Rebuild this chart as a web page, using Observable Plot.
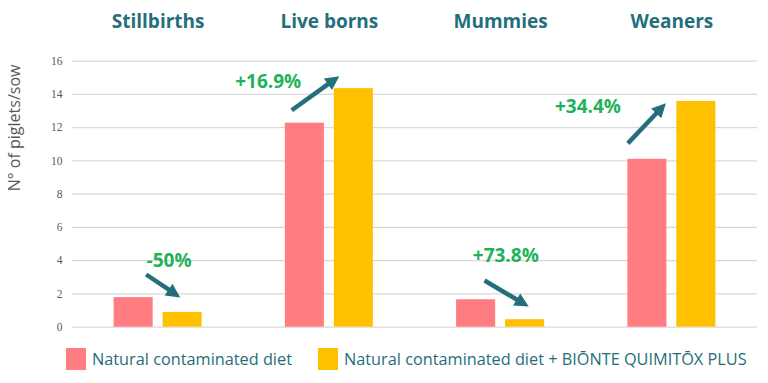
<!DOCTYPE html>
<html>
<head>
<meta charset="utf-8">
<script src="https://cdn.jsdelivr.net/npm/d3@7"></script>
<script src="https://cdn.jsdelivr.net/npm/@observablehq/plot@0.6"></script>
<style>
  body { margin: 0; background: #fff; width: 768px; height: 383px; overflow: hidden; font-family: "Open Sans", sans-serif; }
  #chart svg { display: block; }
  .legend { position: relative; height: 43px; }
  .legend .sw { position: absolute; top: 8px; width: 20px; height: 22px; }
  .legend .lb { position: absolute; top: 8px; line-height: 22px; font-size: 16.3px; color: #1f6e78; white-space: nowrap; }
</style>
</head>
<body>
<div id="chart"></div>
<div class="legend" id="legend"></div>
<script>
// ---- data ----
const categories = ["Stillbirths", "Live borns", "Mummies", "Weaners"];
const series = ["Natural contaminated diet", "Natural contaminated diet + BIŌNTE QUIMITŌX PLUS"];
const controlValues = [1.78, 12.27, 1.65, 10.1];
const treatedValues = [0.89, 14.35, 0.45, 13.58];
const changeLabels = ["-50%", "+16.9%", "+73.8%", "+34.4%"];
const yTicks = [0, 2, 4, 6, 8, 10, 12, 14, 16];

// annotation anchors (value units on y; offsets from group centre in group widths on x)
const arrowStartY = [3.17, 13.05, 2.81, 11.06];
const arrowEndY = [1.79, 15.1, 1.24, 13.47];
const labelY = [4.0, 14.76, 4.3, 13.23];
const arrowStartDX = [-0.07, -0.22, -0.094, -0.257];
const arrowEndDX = [0.129, 0.058, 0.164, -0.035];
const labelDX = [0.064, -0.357, 0.03, -0.49];

const colors = ["#ff7c80", "#ffc000"];
const teal = "#246f7b";
const green = "#1fb25a";

// ---- build tables ----
const bars = [];
categories.forEach((c, i) => {
  bars.push({cat: c, i, s: 0, v: controlValues[i]});
  bars.push({cat: c, i, s: 1, v: treatedValues[i]});
});
const barOffsets = [[-0.257, -0.029], [0.029, 0.257]];
const ann = categories.map((c, i) => ({
  i,
  x1: i + 0.5 + arrowStartDX[i], y1: arrowStartY[i],
  x2: i + 0.5 + arrowEndDX[i], y2: arrowEndY[i],
  lx: i + 0.5 + labelDX[i], ly: labelY[i], text: changeLabels[i]
}));

const HEAD_LEN = 14, HEAD_HALF = 7;
function arrowRender(index, scales, values, dimensions, context, next) {
  const {x1: X1, y1: Y1, x2: X2, y2: Y2} = values;
  const nx2 = [], ny2 = [];
  const heads = [];
  for (const i of index) {
    const dx = X2[i] - X1[i], dy = Y2[i] - Y1[i];
    const L = Math.hypot(dx, dy), ux = dx / L, uy = dy / L;
    nx2[i] = X2[i] - ux * (HEAD_LEN - 2);
    ny2[i] = Y2[i] - uy * (HEAD_LEN - 2);
    const bx = X2[i] - ux * HEAD_LEN, by = Y2[i] - uy * HEAD_LEN;
    heads.push([[X2[i], Y2[i]], [bx - uy * HEAD_HALF, by + ux * HEAD_HALF], [bx + uy * HEAD_HALF, by - ux * HEAD_HALF]]);
  }
  const g = next(index, scales, {...values, x2: nx2, y2: ny2}, dimensions, context);
  const sel = d3.select(g);
  heads.forEach((pts) => {
    sel.append("path").attr("d", "M" + pts.map((p) => p.join(",")).join("L") + "Z")
      .attr("fill", teal).attr("stroke", "none");
  });
  return g;
}

const W = 768, H = 340;
const plot = Plot.plot({
  width: W, height: H,
  marginLeft: 72, marginRight: 11, marginTop: 60.7, marginBottom: 13.3,
  x: {domain: [0, 4], axis: null},
  y: {domain: [0, 16], axis: null},
  style: {fontFamily: "'Open Sans', sans-serif", background: "#fff"},
  marks: [
    Plot.gridY(yTicks, {stroke: "#d9d9d9", strokeOpacity: 1, strokeWidth: 1.3}),
    Plot.axisY(yTicks, {tickSize: 0, tickPadding: 10, fontSize: 11.5, fill: "#595959", fontFamily: "'Liberation Serif', serif", label: null}),
    Plot.axisX(categories.map((c, i) => i + 0.5), {
      anchor: "top", tickSize: 0, tickPadding: 33, fontSize: 19, fontWeight: "bold", fill: teal,
      tickFormat: (d) => categories[Math.floor(d)], label: null
    }),
    Plot.text(["N° of piglets/sow"], {frameAnchor: "left", rotate: -90, dx: -58, dy: -3, fontSize: 16, fill: "#595959"}),
    Plot.rectY(bars, {
      x1: (d) => d.i + 0.5 + barOffsets[d.s][0],
      x2: (d) => d.i + 0.5 + barOffsets[d.s][1],
      y1: 0, y2: "v",
      fill: (d) => colors[d.s]
    }),
    Plot.link(ann, {x1: "x1", y1: "y1", x2: "x2", y2: "y2", stroke: teal, strokeWidth: 4.5, render: arrowRender}),
    Plot.text(ann, {x: "lx", y: "ly", text: "text", fill: green, fontSize: 19, fontWeight: "bold"})
  ]
});
document.getElementById("chart").appendChild(plot);

// legend
const legend = document.getElementById("legend");
const legendPos = [{sw: 66, lb: 92}, {sw: 318, lb: 344}];
series.forEach((s, k) => {
  const sw = document.createElement("div");
  sw.className = "sw"; sw.style.left = legendPos[k].sw + "px"; sw.style.background = colors[k];
  const lb = document.createElement("div");
  lb.className = "lb"; lb.style.left = legendPos[k].lb + "px"; lb.textContent = s;
  legend.appendChild(sw); legend.appendChild(lb);
});
</script>
</body>
</html>
